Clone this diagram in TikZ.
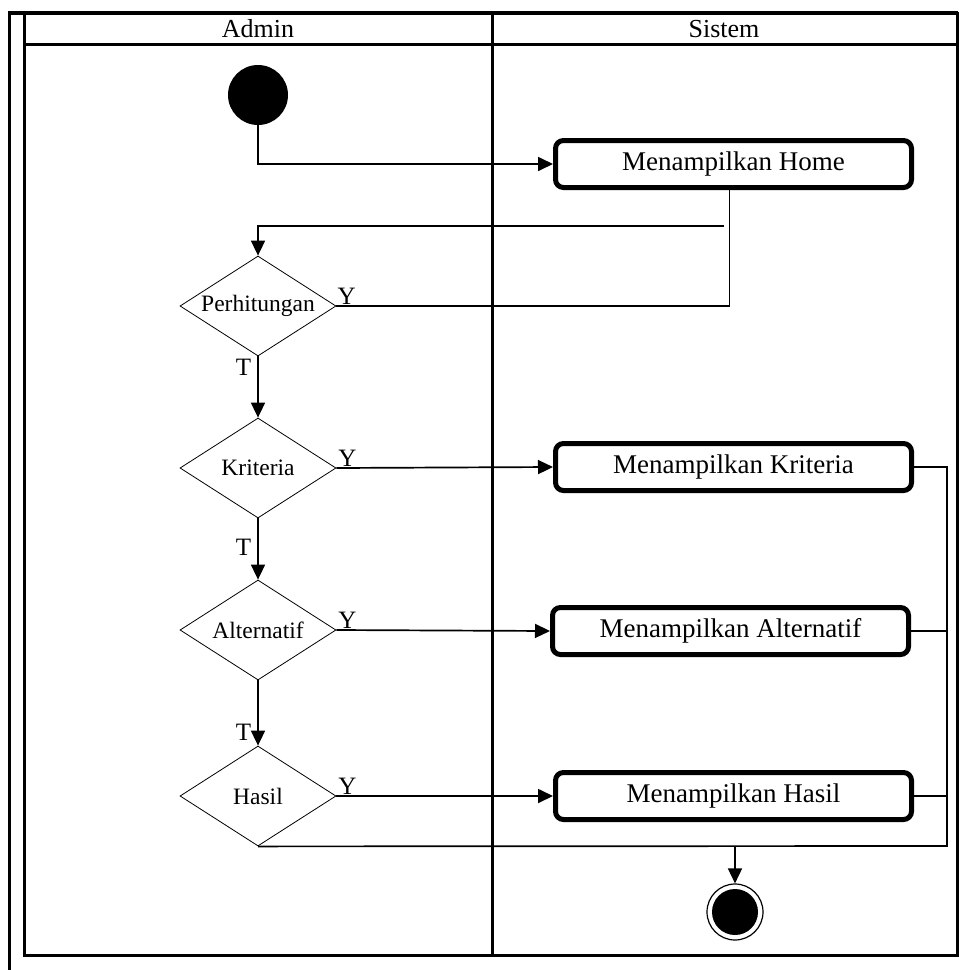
\documentclass[tikz,border=0pt]{standalone}
\usepackage{fontspec}
\setmainfont{Liberation Serif}
\usepackage{tikz}
\usetikzlibrary{arrows.meta}
\usetikzlibrary{shapes,positioning,calc}

\tikzset{
  lane/.style={line width=3pt},
  action/.style={draw, rounded corners=8pt, line width=5pt, minimum width=356pt, minimum height=47pt, inner sep=0pt,
    font=\fontsize{27}{32}\selectfont},
  decision/.style={draw, diamond, line width=0.8pt, minimum width=156pt, minimum height=100pt, inner sep=0pt,
    font=\fontsize{23.5}{28}\selectfont},
  startnode/.style={circle, fill=black, minimum size=60pt, inner sep=0pt},
  endnode/.style={circle, draw, line width=1.2pt, minimum size=56pt, inner sep=0pt,
    path picture={\fill[black] (path picture bounding box.center) circle (23pt);}},
  line/.style={line width=1.7pt},
  flow/.style={line, -{Triangle[length=15pt,width=14pt]}},
  guard/.style={inner sep=1pt}
}
\newcommand{\dtext}[1]{\makebox[0pt]{#1}}

\begin{document}
\begin{tikzpicture}[x=1pt, y=-1pt, font=\fontsize{25}{30}\selectfont]
  \useasboundingbox (0,0) rectangle (959,970);

  % swimlanes
  \draw[lane] (9,970) -- (9,13);
  \draw[line width=4pt] (8,13) -- (958,13);
  \draw[lane] (24,13) rectangle (957,955);
  \draw[lane] (24,44) -- (957,44);
  \draw[lane] (492,13) -- (492,955);
  \node[font=\fontsize{26}{30}\selectfont] (admin) at (258,29) {Admin};
  \node[font=\fontsize{26}{30}\selectfont] (sistem) at (724,29) {Sistem};

  % nodes
  \node[startnode] (start) at (258,95) {};
  \node[action] (home) at (733.5,164) {Menampilkan Home};
  \node[decision] (perh) at (258,306) {\dtext{Perhitungan}};
  \node[decision] (krit) at (258,468) {\dtext{Kriteria}};
  \node[decision] (alt) at (258,630) {\dtext{Alternatif}};
  \node[decision] (hasil) at (258,796) {\dtext{Hasil}};
  \node[action] (kritbox) at (733.5,467) {Menampilkan Kriteria};
  \node[action] (altbox) at (730.5,631) {Menampilkan Alternatif};
  \node[action] (hasilbox) at (733.5,796) {Menampilkan Hasil};
  \node[endnode] (fin) at (735,912) {};

  \coordinate (loop) at (724,226);
  \coordinate (railbot) at (947,846);

  % flows
  \draw[flow] (start) |- (home);
  \draw[line] ([xshift=-4pt]home.south) |- (perh.east);
  \draw[flow] (loop) -| (perh.north);
  \draw[flow] (perh.south) -- node[pos=0.18, left, inner sep=6pt] {T} (krit.north);
  \draw[flow] (krit.south) -- node[pos=0.48, left, inner sep=6pt] {T} (alt.north);
  \draw[flow] (alt.south) -- node[pos=0.8, left, inner sep=6pt] {T} (hasil.north);
  \node[guard, above right] at (perh.east) {Y};
  \draw[flow] (krit.east) -- node[pos=0, guard, above right] {Y} (kritbox.west);
  \draw[flow] (alt.east) -- node[pos=0, guard, above right] {Y} (altbox.west);
  \draw[flow] (hasil.east) -- node[pos=0, guard, above right] {Y} (hasilbox.west);

  \draw[line] (kritbox.east) -| (railbot) -- (hasil.south);
  \draw[line] (altbox.east) -- (altbox.east -| railbot);
  \draw[line] (hasilbox.east) -- (hasilbox.east -| railbot);
  \draw[flow] (fin.north |- railbot) -- (fin.north);
\end{tikzpicture}
\end{document}
